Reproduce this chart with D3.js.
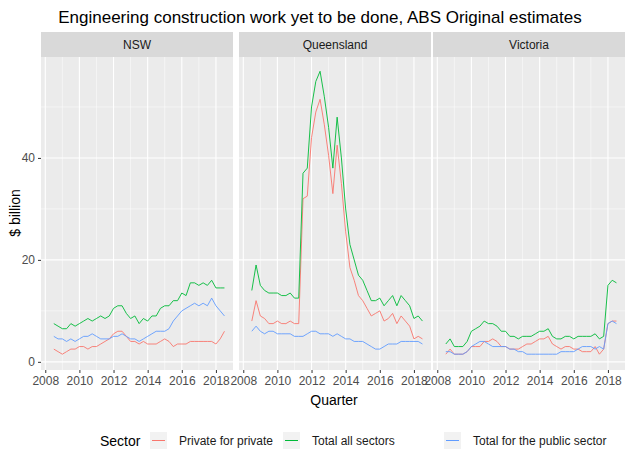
<!DOCTYPE html><html><head><meta charset="utf-8">
<script src="https://cdn.jsdelivr.net/npm/d3@7"></script>
<style>body{margin:0;background:#fff}text{font-family:Arial,"Liberation Sans",sans-serif}</style></head><body>
<svg id="c" width="632" height="468"></svg>
<script>
const startQuarter = 2008.5;
const regions = ["NSW","Queensland","Victoria"];
const sectors = ["Private for private","Total all sectors","Total for the public sector"];
const colors = ["#F8766D","#00BA38","#619CFF"];
const xTicks = [2008,2010,2012,2014,2016,2018];
const yTicks = [0,20,40];
const nswPrivate = [2.5,2,1.5,2,2.5,2.5,3,3,2.5,3,3,3.5,4,4.5,5.5,6,6,5,4,4,3.5,4,3.5,3.5,3.5,4,4.5,4,3,3.5,3.5,3.5,4,4,4,4,4,4,3.5,4.5,6];
const nswTotal = [7.5,7,6.5,6.5,7.5,7,7.5,8,8.5,8,8.5,9,8.5,9,10.5,11,11,9.5,8.5,9,7.5,8.5,8,9,9,10.5,11,11,12,12,13.5,13,15.5,15.5,15,15.5,15,16,14.5,14.5,14.5];
const nswPublic = [5,4.5,4.5,4,4.5,4,4.5,5,5,5.5,5,4.5,4.5,4.5,5,5,5.5,5,4.5,4.5,4,4.5,5,5.5,6,6,6,6.5,8,9,10,10.5,11,11.5,11,11.5,11,12.5,11,10,9];
const qldPrivate = [8,12,9,8.5,7.5,7.5,8,7.5,7.5,8,7.5,7.5,32,32.5,44,49,51.5,46.5,40.5,33,42.5,35,25.5,18.5,16,13,12,10.5,9,9.5,10,8,8.5,9.5,7.5,9,8,7,4.5,5,4.5];
const qldTotal = [14,19,15,14,13.5,13.5,13.5,13,13,13.5,12.5,12.5,37,38,50,55,57,52,46,38,48,40,30,23,20,17,16,14,12,12,12.5,11,12,13,11,13,12,11,8.5,9,8];
const qldPublic = [6,7,6,5.5,6,6,5.5,5.5,5.5,5.5,5,5,5,5.5,6,6,5.5,5.5,5.5,5,5.5,5,4.5,4.5,4,4,4,3.5,3,2.5,2.5,3,3.5,3.5,3.5,4,4,4,4,4,3.5];
const vicPrivate = [1.5,2.5,1.5,1.5,1.5,2,3,3,3,4,4,4.5,4,3,3,2.5,2.5,2.5,3,3.5,3.5,4,4.5,4.5,5,3.5,3,2.5,3,3,2.5,2.5,2,2,2,3,1.5,2.5,7.5,8,8];
const vicTotal = [3.5,4.5,3,3,3,4,6,6.5,7,8,7.5,7.5,7,6,6,5,5,4.5,5,5,5,5.5,6,6,6.5,5,4.5,4.5,5,5,4.5,5,5,5,5,5.5,4.5,5,15,16,15.5];
const vicPublic = [2,2,1.5,1.5,1.5,2,3,3.5,4,4,3.5,3,3,3,3,2.5,2.5,2,2,1.5,1.5,1.5,1.5,1.5,1.5,1.5,1.5,2,2,2,2,2.5,3,3,3,2.5,3,2.5,7.5,8,7.5];
const data = [[nswPrivate,nswTotal,nswPublic],[qldPrivate,qldTotal,qldPublic],[vicPrivate,vicTotal,vicPublic]];

(function(){
const svg = d3.select("#c");
svg.append("text").attr("x",320).attr("y",23).attr("text-anchor","middle").attr("font-size",17).text("Engineering construction work yet to be done, ABS Original estimates");
const panelW=192, panelL=[41,239,433], pTop=57, bot=370, stripTop=32;
const y = d3.scaleLinear().domain([-1.6,59.8]).range([bot,pTop]);
regions.forEach((r,i)=>{
  const x0=panelL[i];
  const x = d3.scaleLinear().domain([2007.75,2019.0]).range([x0,x0+panelW]);
  const g=svg.append("g");
  g.append("rect").attr("x",x0).attr("y",stripTop).attr("width",panelW).attr("height",pTop-stripTop).attr("fill","#D9D9D9");
  g.append("text").attr("x",x0+panelW/2).attr("y",49).attr("text-anchor","middle").attr("font-size",12).attr("fill","#1a1a1a").text(r);
  g.append("rect").attr("x",x0).attr("y",pTop).attr("width",panelW).attr("height",bot-pTop).attr("fill","#EBEBEB");
  [2009,2011,2013,2015,2017].forEach(v=>g.append("line").attr("x1",x(v)).attr("x2",x(v)).attr("y1",pTop).attr("y2",bot).attr("stroke","#fff").attr("stroke-width",0.5));
  [10,30,50].forEach(v=>g.append("line").attr("x1",x0).attr("x2",x0+panelW).attr("y1",y(v)).attr("y2",y(v)).attr("stroke","#fff").attr("stroke-width",0.5));
  xTicks.forEach(v=>g.append("line").attr("x1",x(v)).attr("x2",x(v)).attr("y1",pTop).attr("y2",bot).attr("stroke","#fff").attr("stroke-width",1.1));
  yTicks.forEach(v=>g.append("line").attr("x1",x0).attr("x2",x0+panelW).attr("y1",y(v)).attr("y2",y(v)).attr("stroke","#fff").attr("stroke-width",1.1));
  const ax=g.append("g").attr("transform",`translate(0,${bot})`).call(d3.axisBottom(x).tickValues(xTicks).tickFormat(d3.format("d")).tickSize(3).tickSizeOuter(0));
  ax.select(".domain").remove();
  ax.selectAll("line").attr("stroke","#333");
  ax.selectAll("text").attr("font-size",12).attr("fill","#4d4d4d");
  if(i===0){
    const ay=g.append("g").attr("transform",`translate(${x0},0)`).call(d3.axisLeft(y).tickValues(yTicks).tickSize(3).tickSizeOuter(0));
    ay.select(".domain").remove();ay.selectAll("line").attr("stroke","#333");
    ay.selectAll("text").attr("font-size",12).attr("fill","#4d4d4d");
  }
  const line=d3.line().x((d,k)=>x(startQuarter+k*0.25)).y(d=>y(d));
  data[i].forEach((s,j)=>g.append("path").attr("d",line(s)).attr("fill","none").attr("stroke",colors[j]).attr("stroke-width",0.9));
});
svg.append("text").attr("x",334).attr("y",405).attr("text-anchor","middle").attr("font-size",14).text("Quarter");
svg.append("text").attr("transform","translate(20,213) rotate(-90)").attr("text-anchor","middle").attr("font-size",14).text("$ billion");
svg.append("text").attr("x",100).attr("y",446).attr("font-size",14).text("Sector");
const lx=[150,283,444];
sectors.forEach((s,j)=>{
  svg.append("rect").attr("x",lx[j]).attr("y",432).attr("width",17).attr("height",17).attr("fill","#F2F2F2");
  svg.append("line").attr("x1",lx[j]+2).attr("x2",lx[j]+15).attr("y1",440.5).attr("y2",440.5).attr("stroke",colors[j]);
  svg.append("text").attr("x",lx[j]+29).attr("y",445).attr("font-size",12).attr("fill","#1a1a1a").text(s);
});
})();
</script></body></html>
